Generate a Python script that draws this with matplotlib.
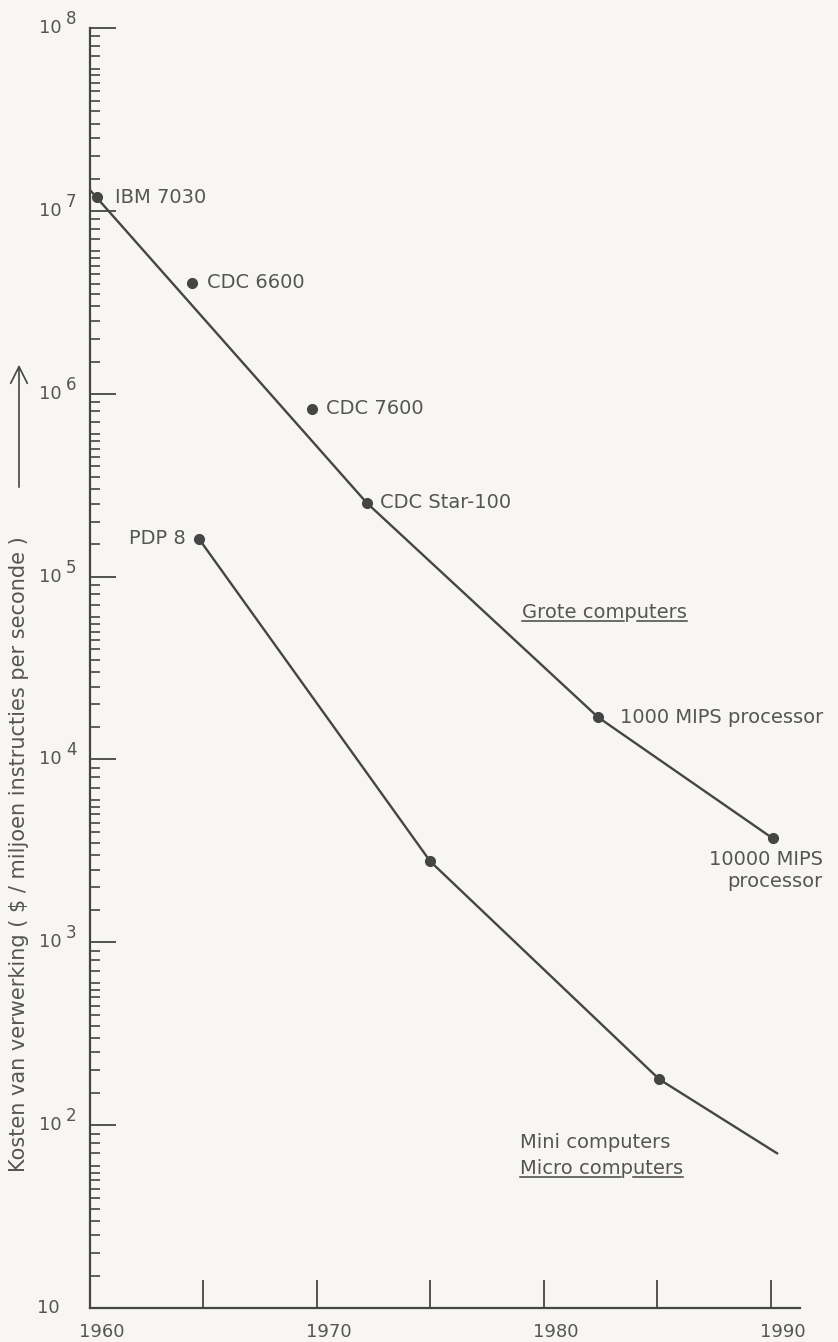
import matplotlib
matplotlib.use('Agg')
import matplotlib.pyplot as plt
import numpy as np
from matplotlib.ticker import FixedLocator, LogLocator, NullFormatter
from matplotlib.lines import Line2D

# --- data ---
grote_line_years = [1960.0, 1972.2, 1982.4, 1990.1]
grote_line_cost = [1.3e7, 2.53e5, 1.7e4, 3.7e3]

grote_names = ['IBM 7030', 'CDC 6600', 'CDC 7600', 'CDC Star-100',
               '1000 MIPS processor', '10000 MIPS\nprocessor']
grote_years = [1960.3, 1964.5, 1969.8, 1972.2, 1982.4, 1990.1]
grote_cost = [1.19e7, 4.05e6, 8.3e5, 2.53e5, 1.7e4, 3.7e3]

mini_line_years = [1964.8, 1975.0, 1985.1, 1990.3]
mini_line_cost = [1.61e5, 2.77e3, 178, 70]
mini_dot_years = [1964.8, 1975.0, 1985.1]
mini_dot_cost = [1.61e5, 2.77e3, 178]

year_ticks = [1965, 1970, 1975, 1980, 1985, 1990]
year_labels = [1960, 1970, 1980, 1990]
exponents = [2, 3, 4, 5, 6, 7, 8]

W, H = 838, 1342
bg = '#f7f6f2'
ink = '#454545'
txt = '#555555'
plt.rcParams['font.family'] = ['DejaVu Sans']

fig = plt.figure(figsize=(W / 100, H / 100), dpi=100, facecolor=bg)
ax = fig.add_axes([90 / W, (H - 1308) / H, 710 / W, 1280 / H])
ax.set_facecolor(bg)
ax.set_yscale('log')
ax.set_ylim(10, 1e8)
ax.set_xlim(1960, 1991.3)

for s in ['top', 'right']:
    ax.spines[s].set_visible(False)
for s in ['left', 'bottom']:
    ax.spines[s].set_color(ink)
    ax.spines[s].set_linewidth(1.6)

ax.yaxis.set_major_locator(FixedLocator(10.0 ** np.arange(1, 9)))
ax.yaxis.set_minor_locator(LogLocator(base=10, subs=[1.5, 2, 2.5, 3, 3.5, 4, 4.5, 5, 5.5, 6, 7, 8, 9]))
ax.yaxis.set_major_formatter(NullFormatter())
ax.yaxis.set_minor_formatter(NullFormatter())
ax.xaxis.set_major_locator(FixedLocator(year_ticks))
ax.xaxis.set_major_formatter(NullFormatter())
ax.tick_params(axis='y', which='major', direction='in', length=19, width=1.3, color=ink)
ax.tick_params(axis='y', which='minor', direction='in', length=7, width=1.2, color=ink)
ax.tick_params(axis='x', which='major', direction='in', length=20, width=1.3, color=ink)

# y labels 10^k
for e in exponents:
    ax.annotate('10', (1960, 10.0 ** e), xytext=(-28, 0), textcoords='offset pixels',
                ha='right', va='center', fontsize=13, color=txt, annotation_clip=False)
    ax.annotate(str(e), (1960, 10.0 ** e), xytext=(-24, 4), textcoords='offset pixels',
                ha='left', va='baseline', fontsize=12, color=txt, annotation_clip=False)
ax.annotate('10', (1960, 10), xytext=(-30, 0), textcoords='offset pixels',
            ha='right', va='center', fontsize=13, color=txt, annotation_clip=False)

for yr in year_labels:
    ax.annotate(str(yr), (yr, 10), xytext=(12, -15), textcoords='offset pixels',
                ha='center', va='top', fontsize=13, color=txt, annotation_clip=False)

# curves
ax.plot(grote_line_years, grote_line_cost, color=ink, lw=1.7, solid_capstyle='round')
ax.plot(mini_line_years, mini_line_cost, color=ink, lw=1.7, solid_capstyle='round')
ax.plot(grote_years, grote_cost, 'o', color=ink, ms=7, clip_on=False)
ax.plot(mini_dot_years, mini_dot_cost, 'o', color=ink, ms=7)

offsets = [(18, 0), (15, 0), (14, 0), (13, 0), (22, 0), (50, -32)]
for name, yr, c, off in zip(grote_names, grote_years, grote_cost, offsets):
    ha = 'right' if '\n' in name else 'left'
    ax.annotate(name, (yr, c), xytext=off, textcoords='offset pixels',
                ha=ha, va='center', fontsize=14, color=txt, linespacing=1.25,
                multialignment='right', annotation_clip=False)
ax.annotate('PDP 8', (mini_dot_years[0], mini_dot_cost[0]), xytext=(-13, 0),
            textcoords='offset pixels', ha='right', va='center', fontsize=14, color=txt)


def underlined(px, py, s, parts):
    t = fig.text(px / W, 1 - py / H, s, ha='left', va='center', fontsize=14, color=txt)
    fig.canvas.draw()
    r = fig.canvas.get_renderer()
    bb = t.get_window_extent(r)

    def width(sub):
        if not sub:
            return 0.0
        tmp = fig.text(px / W, 1 - py / H, sub, ha='left', va='center', fontsize=14)
        w = tmp.get_window_extent(r).width
        tmp.remove()
        return w

    yline = (bb.y0 + 0.5) / H
    for a, b in parts:
        x0 = (bb.x0 + width(s[:a])) / W
        x1 = (bb.x0 + width(s[:b])) / W
        fig.add_artist(Line2D([x0, x1], [yline, yline], transform=fig.transFigure,
                              color=ink, lw=1.1))


underlined(522, 612, 'Grote computers', [(0, 9), (10, 15)])
fig.text(520 / W, 1 - 1142 / H, 'Mini computers', ha='left', va='center', fontsize=14, color=txt)
underlined(520, 1168, 'Micro computers', [(0, 9), (10, 15)])

# y axis title and arrow
fig.text(19 / W, 1 - 854 / H, 'Kosten van verwerking ( $ / miljoen instructies per seconde )',
         rotation=90, ha='center', va='center', fontsize=15, color=txt)
ax.annotate('', xy=(19 / W, 1 - 362 / H), xytext=(19 / W, 1 - 490 / H),
            xycoords='figure fraction', textcoords='figure fraction',
            arrowprops=dict(arrowstyle='->,head_length=0.6,head_width=0.3',
                            color=ink, lw=1.2, mutation_scale=20))

fig.savefig('out.png', dpi=100, facecolor=bg)
